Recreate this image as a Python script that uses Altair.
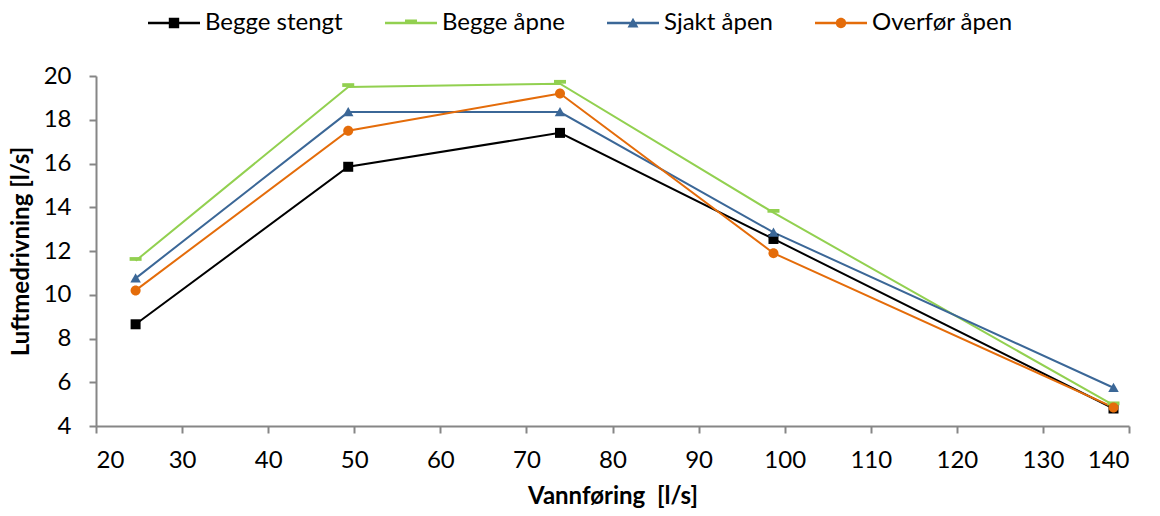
import altair as alt
import pandas as pd

# Water flow (x) and air entrainment for each configuration (y), both in l/s
vannforing = [24.6, 49.3, 73.9, 98.7, 138.2]
series_names = ["Begge stengt", "Begge åpne", "Sjakt åpen", "Overfør åpen"]
begge_stengt = [8.65, 15.85, 17.4, 12.55, 4.8]
begge_apne = [11.55, 19.5, 19.65, 13.75, 4.95]
sjakt_apen = [10.75, 18.35, 18.35, 12.85, 5.75]
overfor_apen = [10.2, 17.5, 19.2, 11.9, 4.85]

colors = ["#000000", "#92D050", "#3B6797", "#E46C0A"]

# marker outlines in [-1, 1] units (square, dash, triangle, circle)
marker_paths = [
    "M-1,-1H1V1H-1Z",
    "M-1.2,-0.75H1.2V0H-1.2Z",
    "M0,-1L1.05,0.85H-1.05Z",
    "M1,0A1,1 0 1,1 -1,0A1,1 0 1,1 1,0Z",
]
# legend keys: a line through the marker
bar = "M-1,-0.045H1V0.045H-1Z "
legend_paths = [
    bar + "M-0.2,-0.2H0.2V0.2H-0.2Z",
    bar + "M-0.23,-0.13H0.23V0H-0.23Z",
    bar + "M0,-0.2L0.21,0.17H-0.21Z",
    bar + "M0.2,0A0.2,0.2 0 1,1 -0.2,0A0.2,0.2 0 1,1 0.2,0Z",
]

rows = []
for name, vals in zip(series_names, [begge_stengt, begge_apne, sjakt_apen, overfor_apen]):
    for xv, yv in zip(vannforing, vals):
        rows.append({"Serie": name, "Vannføring": xv, "Luftmedrivning": yv})
df = pd.DataFrame(rows)

FONT = "Lato"

x_enc = alt.X(
    "Vannføring:Q",
    title="Vannføring\u00a0\u00a0[l/s]",
    scale=alt.Scale(domain=[20, 140], nice=False, zero=False),
    axis=alt.Axis(values=list(range(20, 141, 10)), grid=False, tickSize=7,
                  labelPadding=15, titlePadding=12, format="d"),
)
y_enc = alt.Y(
    "Luftmedrivning:Q",
    title="Luftmedrivning [l/s]",
    scale=alt.Scale(domain=[4, 20], nice=False, zero=False),
    axis=alt.Axis(values=list(range(4, 21, 2)), grid=False, tickSize=7,
                  labelPadding=18, titlePadding=10),
)
color_scale = alt.Scale(domain=series_names, range=colors)

legend_def = alt.Legend(
    title=None, orient="none", direction="horizontal",
    legendX=52, legendY=-79, symbolSize=2704,
    symbolOpacity=1, symbolStrokeWidth=0,
    labelOffset=5, columnPadding=42,
    labelFontSize=24, labelFont=FONT, labelColor="#000000",
)

lines = alt.Chart(df).mark_line(strokeWidth=2).encode(
    x=x_enc, y=y_enc,
    color=alt.Color("Serie:N", scale=color_scale, legend=None),
    detail="Serie:N",
)

points = alt.Chart(df).mark_point(filled=True, size=100, opacity=1, strokeWidth=0).encode(
    x=x_enc, y=y_enc,
    color=alt.Color("Serie:N", scale=color_scale, legend=None),
    shape=alt.Shape("Serie:N", scale=alt.Scale(domain=series_names, range=marker_paths), legend=None),
)

legend_layer = alt.Chart(df).mark_point(filled=True, size=2704, opacity=0, strokeWidth=0).encode(
    x=x_enc, y=y_enc,
    color=alt.Color("Serie:N", scale=color_scale, legend=legend_def),
    shape=alt.Shape("Serie:N", scale=alt.Scale(domain=series_names, range=legend_paths),
                    legend=legend_def),
)

chart = (
    alt.layer(lines, legend_layer, points)
    .resolve_scale(shape="independent")
    .resolve_legend(color="independent", shape="independent")
    .properties(
        width=1033, height=350,
        autosize=alt.AutoSizeParams(type="none"),
        padding={"left": 96, "top": 76, "right": 31, "bottom": 90},
        background="white",
    )
    .configure_view(stroke=None)
    .configure_axis(
        domainColor="#868686", tickColor="#868686", domainWidth=2, tickWidth=2,
        labelFont=FONT, labelFontSize=24, labelColor="#000000",
        titleFont=FONT, titleFontSize=24, titleFontWeight="bold", titleColor="#000000",
    )
)

chart.save("out.html", embed_options={"renderer": "svg", "actions": False})
